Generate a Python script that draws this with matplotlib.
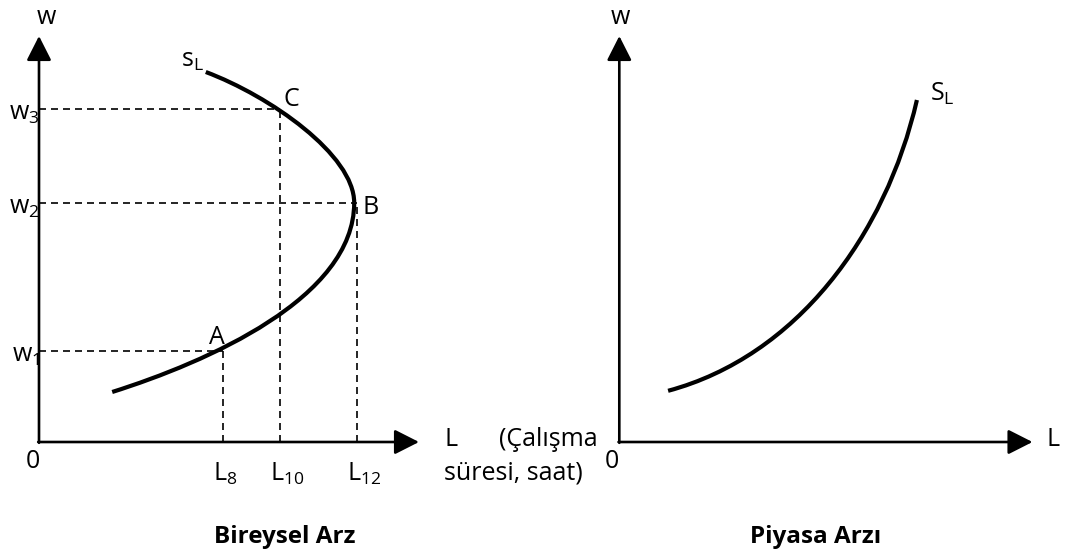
import matplotlib
matplotlib.use('Agg')
import matplotlib.pyplot as plt
from matplotlib.path import Path
from matplotlib.patches import PathPatch

plt.rcParams['font.family'] = ['Open Sans', 'DejaVu Sans']
plt.rcParams['mathtext.fontset'] = 'custom'
plt.rcParams['mathtext.rm'] = 'Open Sans'
plt.rcParams['mathtext.it'] = 'Open Sans'

# --- data (units: 1 unit = 40 px, origin at each panel's axis corner) ---
# individual (backward-bending) labour supply, cubic Bezier control points
IND_LOWER = [(1.83, 1.25), (4.2, 2.0), (7.88, 3.6), (7.88, 5.98)]
IND_UPPER = [(7.88, 5.98), (7.88, 7.18), (5.77, 8.65), (4.17, 9.25)]
# market labour supply
MKT_CURVE = [(1.22, 1.28), (4.42, 2.14), (6.66, 5.15), (7.44, 8.55)]

L_POINTS = [4.6, 6.03, 7.94]          # L8, L10, L12
L_LABELS = ['$\\mathrm{L}_{8}$', '$\\mathrm{L}_{10}$', '$\\mathrm{L}_{12}$']
W_POINTS = [2.28, 5.98, 8.33]         # w1, w2, w3
W_LABELS = ['$\\mathrm{w}_{1}$', '$\\mathrm{w}_{2}$', '$\\mathrm{w}_{3}$']
POINT_NAMES = ['A', 'B', 'C']

X_END_LEFT, X_END_RIGHT, Y_END = 9.5, 10.33, 10.15

UNIT = 40.0
W_PX, H_PX = 1068, 557
FS = 18
FS_TITLE = 17.5


def panel_axes(fig, ox, oy):
    ax = fig.add_axes([0, 0, 1, 1])
    ax.set_xlim(-ox / UNIT, (W_PX - ox) / UNIT)
    ax.set_ylim(-(H_PX - oy) / UNIT, oy / UNIT)
    ax.axis('off')
    ax.patch.set_alpha(0)
    return ax


def bezier(ax, pts):
    codes = [Path.MOVETO, Path.CURVE4, Path.CURVE4, Path.CURVE4]
    ax.add_patch(PathPatch(Path(pts, codes), fill=False, lw=3.0,
                           color='black', capstyle='butt'))


def axes_arrows(ax, xend, yend):
    kw = dict(arrowstyle='-|>,head_length=0.75,head_width=0.38', lw=1.9,
              color='black', shrinkA=0, shrinkB=0, mutation_scale=20)
    ax.annotate('', xy=(xend, 0), xytext=(-0.02, 0), arrowprops=kw)
    ax.annotate('', xy=(0, yend), xytext=(0, -0.02), arrowprops=kw)


fig = plt.figure(figsize=(W_PX / 100, H_PX / 100), dpi=100)

# ---------- Bireysel Arz ----------
ax = panel_axes(fig, 39, 442)
axes_arrows(ax, X_END_LEFT, Y_END)
bezier(ax, IND_LOWER)
bezier(ax, IND_UPPER)

dash = dict(color='black', lw=1.2, linestyle=(0, (4.2, 3.0)))
ax.plot([0, L_POINTS[0]], [W_POINTS[0]] * 2, **dash)
ax.plot([L_POINTS[0]] * 2, [0, W_POINTS[0]], **dash)
ax.plot([0, L_POINTS[2]], [W_POINTS[1]] * 2, **dash)
ax.plot([L_POINTS[2]] * 2, [0, W_POINTS[1]], **dash)
ax.plot([0, L_POINTS[1]], [W_POINTS[2]] * 2, **dash)
ax.plot([L_POINTS[1]] * 2, [0, W_POINTS[2]], **dash)

ax.text(0.18, 10.62, 'w', fontsize=FS, ha='center', va='center')
ax.text(4.12, 9.55, '$\\mathrm{s}_{\\mathrm{L}}$', fontsize=FS, ha='right', va='center')
ax.text(-0.15, -0.5, '0', fontsize=FS, ha='center', va='center')
for wv, lab in zip(W_POINTS, W_LABELS):
    ax.text(0.02, wv - 0.12, lab, fontsize=FS, ha='right', va='center')
for lv, lab in zip(L_POINTS, L_LABELS):
    ax.text(lv - 0.25, -0.8, lab, fontsize=FS, ha='left', va='center')
ax.text(4.45, 2.6, POINT_NAMES[0], fontsize=FS, ha='center', va='center')
ax.text(8.3, 5.85, POINT_NAMES[1], fontsize=FS, ha='center', va='center')
ax.text(6.3, 8.55, POINT_NAMES[2], fontsize=FS, ha='center', va='center')
ax.text(10.13, 0.05, 'L', fontsize=FS, ha='left', va='center')
ax.text(13.96, 0.05, '(Çalışma', fontsize=FS, ha='right', va='center')
ax.text(10.13, -0.78, 'süresi, saat)', fontsize=FS, ha='left', va='center')
ax.text(6.15, -2.38, 'Bireysel Arz', fontsize=FS_TITLE, fontweight='bold',
        ha='center', va='center')

# ---------- Piyasa Arzı ----------
ax2 = panel_axes(fig, 619.3, 442)
axes_arrows(ax2, X_END_RIGHT, Y_END)
bezier(ax2, MKT_CURVE)
ax2.text(0.02, 10.62, 'w', fontsize=FS, ha='center', va='center')
ax2.text(7.78, 8.7, '$\\mathrm{S}_{\\mathrm{L}}$', fontsize=FS, ha='left', va='center')
ax2.text(-0.18, -0.5, '0', fontsize=FS, ha='center', va='center')
ax2.text(10.67, 0.05, 'L', fontsize=FS, ha='left', va='center')
ax2.text(4.92, -2.38, 'Piyasa Arzı', fontsize=FS_TITLE, fontweight='bold',
         ha='center', va='center')

fig.savefig('out.png', dpi=100, facecolor='white')
